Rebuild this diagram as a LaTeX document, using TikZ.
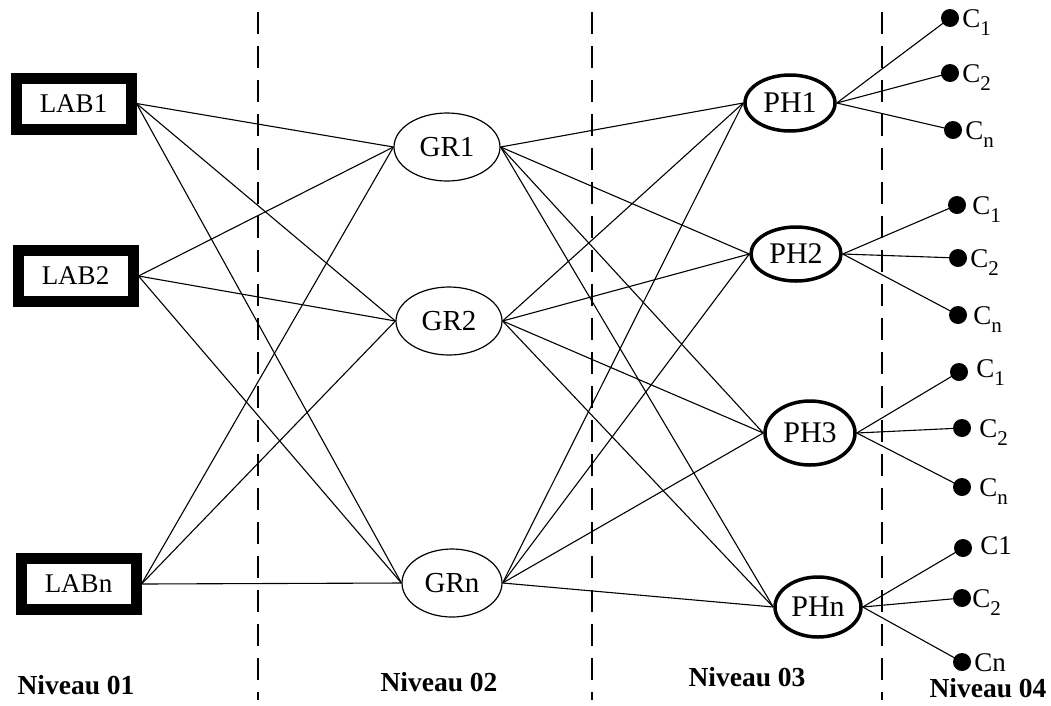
\documentclass[tikz,border=0pt]{standalone}
\usepackage{fontspec}
\setmainfont{Liberation Serif}
\usetikzlibrary{shapes.geometric,calc}
\newcommand{\csub}[1]{\raisebox{-0.32em}{\fontsize{21}{21}\selectfont #1}}
\begin{document}
\begin{tikzpicture}[x=1pt,y=-1pt,
  lab/.style={draw, line width=11pt, minimum width=115pt, minimum height=51pt, inner sep=0pt, font=\fontsize{27}{31}\selectfont},
  gr/.style={draw, ellipse, line width=1.2pt, minimum width=106pt, minimum height=68pt, inner sep=0pt, font=\fontsize{29}{33}\selectfont},
  ph/.style={draw, ellipse, line width=3.5pt, minimum width=90pt, minimum height=58pt, inner sep=0pt, font=\fontsize{30}{34}\selectfont},
  link/.style={line width=1.1pt},
  dot/.style={circle, fill, minimum size=18pt, inner sep=0pt},
  clab/.style={anchor=base west, inner sep=0pt, font=\fontsize{27}{31}\selectfont},
  lvl/.style={font=\bfseries\fontsize{27.5}{31}\selectfont},
  sepline/.style={line width=1.4pt, dash pattern=on 22pt off 12pt}]
\useasboundingbox (0,0) rectangle (1051,705);

% dashed separators
\coordinate (s1t) at (258,12); \coordinate (s1b) at (258,700);
\coordinate (s2t) at (592,12); \coordinate (s2b) at (592,700);
\coordinate (s3t) at (882,12); \coordinate (s3b) at (882,700);
\draw[sepline] (s1t) -- (s1b);
\draw[sepline] (s2t) -- (s2b);
\draw[sepline] (s3t) -- (s3b);

% level 1
\node[lab] (lab1) at (73.5,103.5) {LAB1\hspace{16pt}};
\node[lab] (lab2) at (75.5,276) {LAB2\hspace{12pt}};
\node[lab] (labn) at (78.5,584) {LABn\hspace{18pt}};

% level 2
\node[gr] (gr1) at (447,147) {GR1};
\node[gr] (gr2) at (449,321) {GR2};
\node[gr, minimum width=100pt] (grn) at (452,583) {GRn};

% level 3
\node[ph, minimum height=56pt] (ph1) at (790,103) {PH1};
\node[ph, minimum height=54pt] (ph2) at (796,254) {PH2};
\node[ph, minimum height=64pt] (ph3) at (810,433) {PH3};
\node[ph, minimum width=86pt, minimum height=60pt] (phn) at (818,607) {PHn};

% links level1 -> level2
\foreach \a in {lab1,lab2,labn}
  \foreach \b in {gr1,gr2,grn}
    \draw[link] (\a.east) -- (\b.west);

% links level2 -> level3
\foreach \a in {gr1,gr2,grn}
  \foreach \b in {ph1,ph2,ph3,phn}
    \draw[link] (\a.east) -- (\b.west);

% level 4 dots
\node[dot] (d11) at (950,18) {};
\node[dot] (d12) at (950,73) {};
\node[dot] (d13) at (953,130) {};
\node[dot] (d21) at (957,205) {};
\node[dot] (d22) at (958,258) {};
\node[dot] (d23) at (958,315) {};
\node[dot] (d31) at (959,372) {};
\node[dot] (d32) at (962,428) {};
\node[dot] (d33) at (962,487) {};
\node[dot] (d41) at (963,548) {};
\node[dot] (d42) at (962,598) {};
\node[dot] (d43) at (962,662) {};

\foreach \i in {1,2,3}{
  \draw[link] (ph1.east) -- (d1\i.center);
  \draw[link] (ph2.east) -- (d2\i.center);
  \draw[link] (ph3.east) -- (d3\i.center);
  \draw[link] (phn.east) -- (d4\i.center);
}

\node[clab] (c11) at ($(d11.east)+(3,9)$) {C\csub{1}};
\node[clab] (c12) at ($(d12.east)+(3,9)$) {C\csub{2}};
\node[clab] (c13) at ($(d13.east)+(3,9)$) {C\csub{n}};
\node[clab] (c21) at ($(d21.east)+(6,9)$) {C\csub{1}};
\node[clab] (c22) at ($(d22.east)+(3,9)$) {C\csub{2}};
\node[clab] (c23) at ($(d23.east)+(6,9)$) {C\csub{n}};
\node[clab] (c31) at ($(d31.east)+(8,5)$) {C\csub{1}};
\node[clab] (c32) at ($(d32.east)+(8,9)$) {C\csub{2}};
\node[clab] (c33) at ($(d33.east)+(8,9)$) {C\csub{n}};
\node[clab] (c41) at ($(d41.east)+(8,6)$) {C1};
\node[clab] (c42) at ($(d42.east)+(1,9)$) {C\csub{2}};
\node[clab] (c43) at ($(d43.east)+(3,9)$) {Cn};

% level labels
\node[lvl] (n1) at (76,685) {Niveau 01};
\node[lvl] (n2) at (439,682) {Niveau 02};
\node[lvl] (n3) at (747,677) {Niveau 03};
\node[lvl] (n4) at (988,688) {Niveau 04};
\end{tikzpicture}
\end{document}
